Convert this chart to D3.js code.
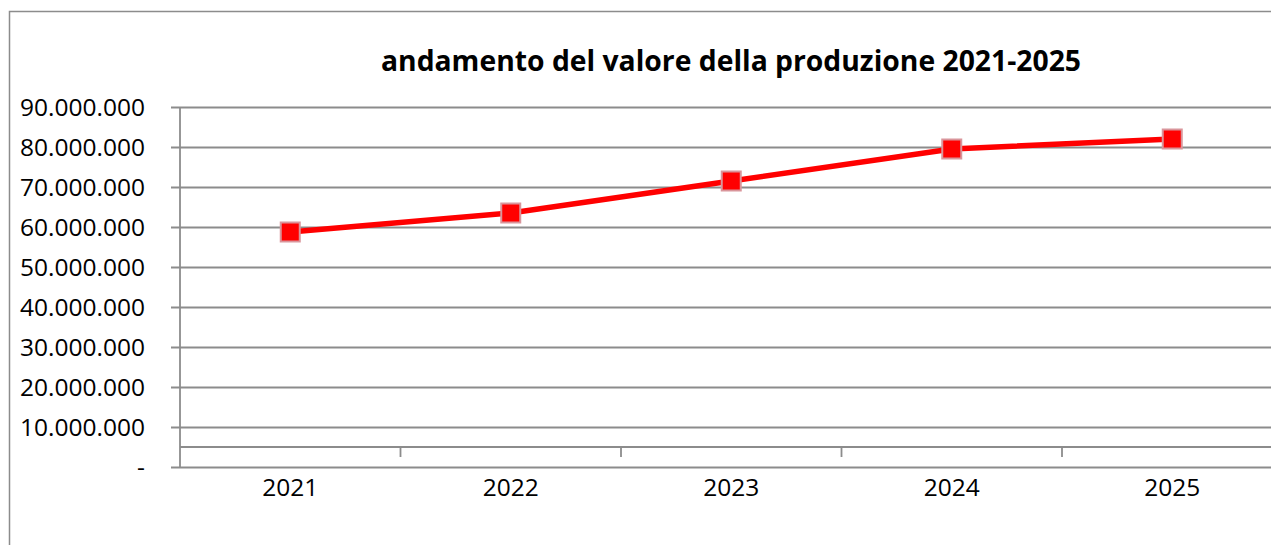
<!DOCTYPE html>
<html>
<head>
<meta charset="utf-8">
<script src="https://cdn.jsdelivr.net/npm/d3@7"></script>
<style>
  body { margin: 0; background: #fff; }
  svg { display: block; }
</style>
</head>
<body>
<div id="chart"></div>
<script>
// data
var years = ["2021", "2022", "2023", "2024", "2025"];
var values = [58750000, 63500000, 71500000, 79500000, 82000000];
var yTicks = [0, 10000000, 20000000, 30000000, 40000000, 50000000, 60000000, 70000000, 80000000, 90000000];
var title = "andamento del valore della produzione 2021-2025";

(function () {
  var width = 1271,
    height = 545;

  var left = 180, top = 107, bottom = 467, right = 1282.5;
  var axisY = 447;  // category axis sits above the zero line

  var svg = d3.select("#chart")
    .append("svg")
    .attr("width", width)
    .attr("height", height)
    .style("font-family", '"Open Sans", sans-serif');

  // outer frame (runs off the right / bottom edge)
  svg.append("rect")
    .attr("x", 9.5).attr("y", 11.5)
    .attr("width", 1400).attr("height", 600)
    .attr("fill", "none")
    .attr("stroke", "#8c8c8c")
    .attr("stroke-width", 1.5);

  var x = d3.scaleBand().domain(years).range([left, right]);
  var y = d3.scaleLinear().domain([0, 90000000]).range([bottom, top]);

  var it = d3.formatLocale({ decimal: ",", thousands: ".", grouping: [3], currency: ["€", ""] });
  var fmt = it.format(",.0f");

  var yAxis = d3.axisLeft(y)
    .tickValues(yTicks)
    .tickSize(-(right - left))
    .tickSizeOuter(0)
    .tickPadding(35)
    .tickFormat(function (d) { return d === 0 ? "-" : fmt(d); });

  var gy = svg.append("g")
    .attr("transform", "translate(" + left + ",0)")
    .call(yAxis)
    .attr("font-family", '"Open Sans", sans-serif');
  gy.select(".domain").remove();
  gy.selectAll(".tick line")
    .attr("x1", -9)
    .attr("stroke", "#8c8c8c")
    .attr("stroke-width", 1.8);
  gy.selectAll(".tick text")
    .attr("font-size", "24.5px")
    .attr("fill", "#000")
    .attr("dy", "0.36em");

  // vertical axis line
  svg.append("line")
    .attr("x1", left).attr("x2", left)
    .attr("y1", top).attr("y2", bottom)
    .attr("stroke", "#8c8c8c")
    .attr("stroke-width", 1.8);

  // category axis
  svg.append("line")
    .attr("x1", left).attr("x2", right)
    .attr("y1", axisY).attr("y2", axisY)
    .attr("stroke", "#8c8c8c")
    .attr("stroke-width", 1.8);

  svg.selectAll(".cat_tick")
    .data(years.slice(1))
    .enter().append("line")
    .attr("class", "cat_tick")
    .attr("x1", function (d) { return x(d); })
    .attr("x2", function (d) { return x(d); })
    .attr("y1", axisY)
    .attr("y2", axisY + 10)
    .attr("stroke", "#8c8c8c")
    .attr("stroke-width", 1.8);

  svg.selectAll(".cat_label")
    .data(years)
    .enter().append("text")
    .attr("class", "cat_label")
    .attr("x", function (d) { return x(d) + x.bandwidth() / 2; })
    .attr("y", 496)
    .attr("text-anchor", "middle")
    .attr("font-size", "24.5px")
    .attr("fill", "#000")
    .text(function (d) { return d; });

  // title
  svg.append("text")
    .attr("x", 731)
    .attr("y", 71)
    .attr("text-anchor", "middle")
    .attr("font-size", "28.3px")
    .attr("font-weight", "bold")
    .attr("fill", "#000")
    .text(title);

  var pts = years.map(function (d, i) { return { year: d, value: values[i] }; });

  var line = d3.line()
    .x(function (d) { return x(d.year) + x.bandwidth() / 2; })
    .y(function (d) { return y(d.value); });

  svg.append("path")
    .datum(pts)
    .attr("d", line)
    .attr("fill", "none")
    .attr("stroke", "#ff0000")
    .attr("stroke-width", 5.5);

  var s = 19;
  svg.selectAll(".marker")
    .data(pts)
    .enter().append("rect")
    .attr("class", "marker")
    .attr("x", function (d) { return x(d.year) + x.bandwidth() / 2 - s / 2; })
    .attr("y", function (d) { return y(d.value) - s / 2; })
    .attr("width", s)
    .attr("height", s)
    .attr("fill", "#ff0000")
    .attr("stroke", "#d9959b")
    .attr("stroke-width", 2);
})();
</script>
</body>
</html>
